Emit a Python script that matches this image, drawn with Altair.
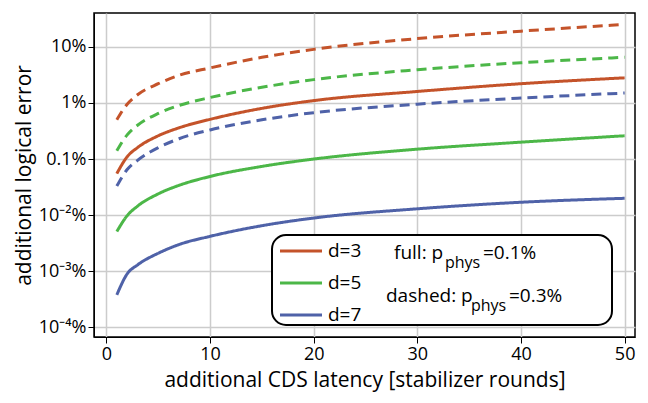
import altair as alt
import pandas as pd

rounds = [1, 2, 3, 5, 7, 10, 15, 20, 30, 40, 50]
d3_full = [0.055, 0.11, 0.16, 0.26, 0.36, 0.51, 0.8, 1.1, 1.6, 2.2, 2.8]
d5_full = [0.0051, 0.0098, 0.0145, 0.024, 0.034, 0.049, 0.074, 0.1, 0.15, 0.2, 0.26]
d7_full = [0.00038, 0.0009, 0.0013, 0.0021, 0.003, 0.0042, 0.0065, 0.0089, 0.013, 0.017, 0.02]
d3_dash = [0.5, 0.95, 1.4, 2.2, 3.1, 4.2, 6.5, 9.0, 14.0, 19.0, 25.0]
d5_dash = [0.14, 0.27, 0.4, 0.65, 0.9, 1.25, 1.9, 2.6, 3.9, 5.2, 6.5]
d7_dash = [0.033, 0.065, 0.095, 0.16, 0.23, 0.33, 0.5, 0.67, 0.95, 1.22, 1.5]

colours = {"d=3": "#c4532a", "d=5": "#4cb748", "d=7": "#4f62a8"}
FONT = "Open Sans"

rows = []
for name, vals, style in [("d=3", d3_full, "full"), ("d=5", d5_full, "full"), ("d=7", d7_full, "full"),
                          ("d=3", d3_dash, "dashed"), ("d=5", d5_dash, "dashed"), ("d=7", d7_dash, "dashed")]:
    for x, v in zip(rounds, vals):
        rows.append({"rounds": x, "err": v, "d": name, "style": style, "key": name + style})
df = pd.DataFrame(rows)

e = "round(log(datum.value)/LN10)"
label_expr = (f"{e}==1?'10%':{e}==0?'1%':{e}==-1?'0.1%':{e}==-2?'10⁻²%':"
              f"{e}==-3?'10⁻³%':'10⁻⁴%'")

lines = alt.Chart(df).mark_line(strokeWidth=3, interpolate="monotone").encode(
    x=alt.X("rounds:Q", scale=alt.Scale(domain=[-1.2, 51], nice=False),
            axis=alt.Axis(values=[0, 10, 20, 30, 40, 50], title="additional CDS latency [stabilizer rounds]",
                          titlePadding=6)),
    y=alt.Y("err:Q", scale=alt.Scale(type="log", domain=[10 ** -4.17, 40], nice=False),
            axis=alt.Axis(values=[1e-4, 1e-3, 1e-2, 0.1, 1, 10], labelExpr=label_expr,
                          title="additional logical error")),
    color=alt.Color("d:N", scale=alt.Scale(domain=list(colours), range=list(colours.values())), legend=None),
    strokeDash=alt.StrokeDash("style:N", scale=alt.Scale(domain=["full", "dashed"], range=[[1, 0], [10, 6]]),
                              legend=None),
    detail="key:N",
)

box = alt.Chart(pd.DataFrame({"a": [0]})).mark_rect(
    fill="white", stroke="black", strokeWidth=2, cornerRadius=14
).encode(x=alt.value(178), x2=alt.value(518), y=alt.value(222), y2=alt.value(312))

legend_layers = []
for i, (name, col) in enumerate(colours.items()):
    yy = 238 + i * 32
    legend_layers.append(alt.Chart(pd.DataFrame({"a": [0]})).mark_rule(color=col, strokeWidth=3).encode(
        x=alt.value(186), x2=alt.value(228), y=alt.value(yy)))
    legend_layers.append(alt.Chart(pd.DataFrame({"a": [0]})).mark_text(
        text=name, font=FONT, fontSize=19, align="left", baseline="middle").encode(
        x=alt.value(234), y=alt.value(yy)))

def txt(s, x, y, size=19):
    return alt.Chart(pd.DataFrame({"a": [0]})).mark_text(
        text=s, font=FONT, fontSize=size, align="left", baseline="middle").encode(x=alt.value(x), y=alt.value(y))

legend_layers += [
    txt("full: p", 300, 240), txt("phys", 351, 250, 16), txt("=0.1%", 389, 240),
    txt("dashed: p", 292, 283), txt("phys", 377, 293, 16), txt("=0.3%", 415, 283),
]

chart = alt.layer(lines, box, *legend_layers).properties(
    width=632, height=387, autosize=alt.AutoSizeParams(type="fit", contains="padding")
).configure_axis(
    labelFont=FONT, titleFont=FONT, labelFontSize=18, titleFontSize=21, titleFontWeight="normal",
    labelColor="black", titleColor="black", gridColor="#cccccc", gridWidth=1.5,
    domainColor="black", tickColor="black", tickSize=6,
).configure_view(stroke="black", strokeWidth=1.5)

chart.save("out.html", embed_options={"renderer": "svg", "actions": False})
